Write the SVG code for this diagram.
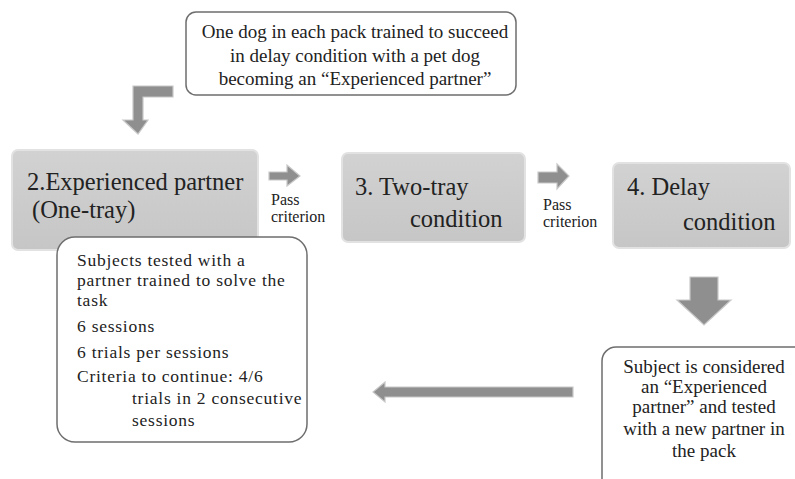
<svg xmlns="http://www.w3.org/2000/svg" width="795" height="479" viewBox="0 0 795 479">
<defs>
<linearGradient id="gbox" x1="0" y1="0" x2="0" y2="1">
<stop offset="0" stop-color="#d2d2d2"/>
<stop offset="1" stop-color="#c6c6c6"/>
</linearGradient>
<style>
.t{font-family:"Liberation Serif","Times New Roman",serif;fill:#222}
.big{font-size:24.5px}
.med{font-size:19px}
.det{font-size:17.5px;letter-spacing:0.75px}
.sm{font-size:16px}
.gbox{fill:url(#gbox);stroke:#e2e2e2;stroke-width:2}
.wbox{fill:#fff;stroke:#6e6e6e;stroke-width:1.5}
.arr{fill:#8f8f8f;stroke:#c8c8c8;stroke-width:1.2}
</style>
</defs>
<rect width="795" height="479" fill="#fff"/>
<g id="connectors">
<path class="arr" d="M173,86 L133,86 L133,120 L123,120 L138,134 L148,120 L143,120 L143,97 L173,97 Z"/>
<path class="arr" d="M269,172 L287,172 L287,165 L300,176 L287,186 L287,180 L269,180 Z"/>
<path class="arr" d="M538,172 L557,172 L557,164 L569,176 L557,189 L557,183 L538,183 Z"/>
<path class="arr" d="M690,277 L718,277 L718,300 L731,300 L704,325 L677,300 L690,300 Z"/>
<path class="arr" d="M573,387 L385,387 L385,382 L373,392 L385,402 L385,397 L573,397 Z"/>
</g>
<g id="node-top">
<rect class="wbox" x="186" y="12" width="330" height="83" rx="10"/>
<text class="t med" text-anchor="middle" x="355" y="38">One dog in each pack trained to succeed</text>
<text class="t med" text-anchor="middle" x="355" y="62">in delay condition with a pet dog</text>
<text class="t med" text-anchor="middle" x="355" y="85">becoming an “Experienced partner”</text>
</g>
<g id="node-2">
<rect class="gbox" x="12" y="150" width="246" height="100" rx="6"/>
<text class="t big" x="27" y="190">2.Experienced partner</text>
<text class="t big" x="32" y="218">(One-tray)</text>
</g>
<g id="label-pass1">
<text class="t sm" x="271" y="205">Pass</text>
<text class="t sm" x="271" y="222">criterion</text>
</g>
<g id="node-3">
<rect class="gbox" x="342" y="153" width="183" height="89" rx="6"/>
<text class="t big" x="355" y="195">3. Two-tray</text>
<text class="t big" x="410" y="227">condition</text>
</g>
<g id="label-pass2">
<text class="t sm" x="543" y="210">Pass</text>
<text class="t sm" x="543" y="227">criterion</text>
</g>
<g id="node-4">
<rect class="gbox" x="613" y="163" width="177" height="85" rx="6"/>
<text class="t big" x="627" y="195">4. Delay</text>
<text class="t big" x="683" y="230">condition</text>
</g>
<g id="node-details">
<rect class="wbox" x="57" y="237" width="250" height="205" rx="18"/>
<text class="t det" x="77" y="266">Subjects tested with a</text>
<text class="t det" x="77" y="286">partner trained to solve the</text>
<text class="t det" x="77" y="306">task</text>
<text class="t det" x="77" y="332">6 sessions</text>
<text class="t det" x="77" y="358">6 trials per sessions</text>
<text class="t det" x="77" y="382">Criteria to continue: 4/6</text>
<text class="t det" x="132" y="404">trials in 2 consecutive</text>
<text class="t det" x="132" y="426">sessions</text>
</g>
<g id="node-result">
<rect class="wbox" x="602" y="347" width="210" height="150" rx="14"/>
<text class="t med" text-anchor="middle" x="704" y="373">Subject is considered</text>
<text class="t med" text-anchor="middle" x="704" y="393">an “Experienced</text>
<text class="t med" text-anchor="middle" x="704" y="413">partner” and tested</text>
<text class="t med" text-anchor="middle" x="704" y="435">with a new partner in</text>
<text class="t med" text-anchor="middle" x="704" y="457">the pack</text>
</g>
</svg>
